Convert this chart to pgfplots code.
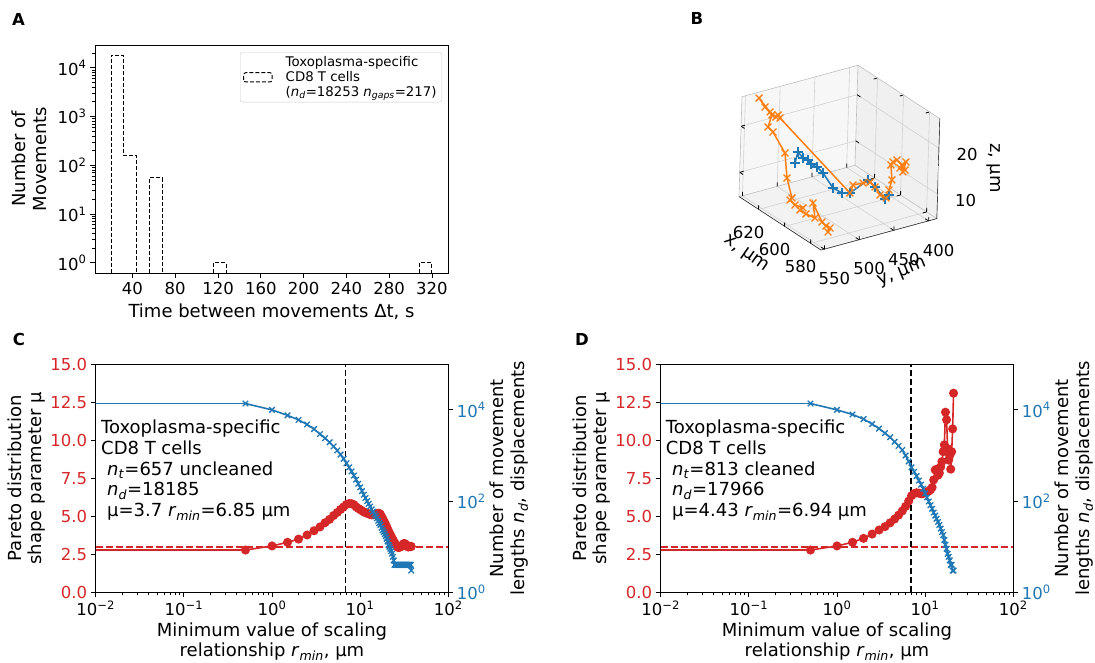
\documentclass[border=0pt]{standalone}
\usepackage{fontspec}
\setmainfont{DejaVu Sans}
\usepackage{pgfplots}
\pgfplotsset{compat=1.18}
\definecolor{mred}{HTML}{D62728}
\definecolor{mblue}{HTML}{1F77B4}
\definecolor{morange}{HTML}{FF7F0E}
\newcommand{\tickfont}{\fontsize{16.5}{19}\selectfont}
\newcommand{\labfont}{\fontsize{18}{20.7}\selectfont}
\newcommand{\e}[1]{10\textsuperscript{#1}}
\pgfplotsset{
  mystyle/.style={
    scale only axis,
    /pgf/number format/assume math mode=true,
    tick label style={font=\tickfont},
    label style={font=\labfont},
    tick align=outside,
    major tick length=5pt, minor tick length=3pt,
    axis line style={line width=0.9pt},
    tick style={black, line width=0.9pt},
  },
  b3d/.style={
    at={(839.5pt,504.25pt)}, anchor=center, disabledatascaling,
    x={(-1.3016pt,0.8492pt)}, y={(-0.6946pt,-0.1886pt)}, z={(0.1382pt,4.6083pt)},
    xmin=572, xmax=635, ymin=388, ymax=555, zmin=4.7, zmax=26.4,
    xtick={580,600,620}, ytick={400,450,500,550}, ztick={10,20},
  }
}
\begin{document}
\begin{tikzpicture}
\useasboundingbox (0,0) rectangle (1095pt,662pt);
% ---------------- Panel A
\begin{axis}[mystyle, at={(95pt,388.7pt)}, anchor=south west, width=353pt, height=228.3pt,
  xmin=5, xmax=335, ymode=log, ymin=0.61, ymax=29400,
  xtick={40,80,120,160,200,240,280,320},
  ytick={1,10,100,1000,10000}, yticklabels={\e{0},\e{1},\e{2},\e{3},\e{4}},
  minor ytick={2,3,4,5,6,7,8,9,20,30,40,50,60,70,80,90,200,300,400,500,600,700,800,900,2000,3000,4000,5000,6000,7000,8000,9000,20000},
  tick pos=left,
  xlabel={Time between movements Δt, s},
  xlabel style={at={(axis description cs:0.5,-0.193)}, anchor=base, inner sep=0pt},
  ylabel={Number of\\Movements},
  ylabel style={at={(axis description cs:-0.236,0.5)}, anchor=north, align=center, inner sep=0pt},
  legend style={at={(0.9822,0.968)}, anchor=north east, draw=black!20, rounded corners=2pt,
    font=\fontsize{13.3}{15}\selectfont, cells={align=left, anchor=west}, fill=white,
    inner xsep=3pt, inner ysep=2pt},
  legend image code/.code={\draw[#1] (0pt,-4.6pt) rectangle (28.3pt,4.6pt); \path[draw=none, fill=none] (0pt,0pt) -- (40pt,0pt);},
]
\addplot[black, line width=1pt, dash pattern=on 4pt off 2pt] coordinates {(20,0.61) (20,18036) (32,18036) (32,160) (44,160) (44,0.61)};
\addlegendentry{Toxoplasma-specific\\CD8 T cells\\(\textit{n}\textsubscript{\textit{d}}=18253 \textit{n}\textsubscript{\textit{gaps}}=217)}
\addplot[black, line width=1pt, dash pattern=on 4pt off 2pt, forget plot] coordinates {(56,0.61) (56,55) (68,55) (68,0.61)};
\addplot[black, line width=1pt, dash pattern=on 4pt off 2pt, forget plot] coordinates {(116,0.61) (116,1) (128,1) (128,0.61)};
\addplot[black, line width=1pt, dash pattern=on 4pt off 2pt, forget plot] coordinates {(308,0.61) (308,1) (320,1) (320,0.61)};
\end{axis}
% ---------------- Panel B (panes)
\begin{axis}[b3d, hide axis]
\addplot3[draw=none, fill=black!3] coordinates {(635,388,4.7) (635,555,4.7) (635,555,26.4) (635,388,26.4)};
\addplot3[draw=none, fill=black!6] coordinates {(572,388,4.7) (635,388,4.7) (635,388,26.4) (572,388,26.4)};
\addplot3[draw=none, fill=black!5] coordinates {(572,388,4.7) (635,388,4.7) (635,555,4.7) (572,555,4.7)};
\end{axis}
% ---------------- Panel B (data)
\begin{axis}[b3d,
  grid=major, grid style={black!18, line width=0.6pt},
  axis line style={black!25, line width=0.6pt},
  /pgf/number format/assume math mode=true,
  tick label style={font=\tickfont},
  xtick pos=left, ytick pos=left, ztick pos=right, zticklabel pos=right,
  xticklabel style={anchor=center, xshift=-10pt, yshift=-23pt},
  yticklabel style={anchor=center, xshift=10pt, yshift=-29pt},
  zticklabel style={anchor=center, xshift=28pt, yshift=-6pt},
  major tick length=4pt, tick style={black, line width=0.8pt},
]
\addplot3[black, line width=0.8pt] coordinates {(635,555,4.7) (572,555,4.7) (572,388,4.7) (572,388,26.4)};
\addplot3[mblue, line width=1.5pt, mark=+, mark size=4.8pt, mark options={line width=1.3pt}] coordinates {
(617.4,509.0,13.38) (621.8,496.8,14.47) (618.1,496.3,13.81) (617.0,491.1,13.38) (614.6,491.1,12.95)
(613.3,485.0,12.30) (609.4,483.4,11.64) (600.4,485.5,10.13) (596.7,479.4,9.47) (596.6,468.1,9.04)
(593.4,448.6,11.64) (590.1,444.4,10.56) (585.3,438.7,8.61) (584.4,434.7,9.47)};
\addplot3[morange, line width=1.5pt, mark=x, mark size=4.8pt, mark options={line width=1.3pt}] coordinates {
(579.0,532.1,6.44) (580.2,527.1,6.87) (582.8,528.0,6.87) (585.4,529.0,7.30) (596.6,521.3,9.04)
(587.8,534.7,7.96) (593.2,537.6,7.96) (595.4,542.2,8.61) (596.4,536.1,8.61) (599.0,542.7,9.04)
(602.6,543.2,9.47) (603.9,538.0,9.47) (606.8,540.5,13.38) (611.5,535.4,17.72) (619.3,538.7,20.98)
(622.1,540.8,21.63) (623.8,532.3,23.58) (629.5,531.7,24.23) (634.2,531.7,25.30) (625.9,531.2,23.80)
(622.9,528.2,23.15) (623.2,524.6,23.36) (621.1,525.7,23.15)
(596.6,468.1,9.04) (595.9,465.3,10.78) (593.7,455.2,11.21) (592.9,446.5,11.21) (590.1,444.4,10.56)
(588.1,440.7,9.04) (585.9,436.1,8.61) (586.1,431.7,10.13) (587.2,425.8,11.86) (590.0,422.5,14.47)
(587.9,423.7,15.55) (587.0,419.7,15.98) (583.4,419.3,15.55) (582.6,416.1,14.47) (583.8,421.2,14.90)
(583.3,413.7,15.98) (582.3,419.6,14.25)};
\end{axis}
\node[rotate=-35, font=\labfont] at (746pt,408pt) {x, μm};
\node[rotate=22, font=\labfont] at (902pt,389pt) {y, μm};
\node[rotate=-90, font=\labfont] at (994pt,494pt) {z, μm};
% ---------------- Panel C
\begin{axis}[mystyle, at={(95.7pt,69.7pt)}, anchor=south west, width=352.6pt, height=228pt,
  xmode=log, xmin=0.01, xmax=100, ymin=0, ymax=15,
  xtick={0.01,0.1,1,10,100}, xticklabels={\e{−2},\e{−1},\e{0},\e{1},\e{2}},
  minor xtick={0.02,0.03,0.04,0.05,0.06,0.07,0.08,0.09,0.2,0.3,0.4,0.5,0.6,0.7,0.8,0.9,2,3,4,5,6,7,8,9,20,30,40,50,60,70,80,90},
  ytick={0,2.5,5,7.5,10,12.5,15},
  yticklabel style={text=mred},
  y tick label style={/pgf/number format/fixed, /pgf/number format/fixed zerofill, /pgf/number format/precision=1},
  tick pos=left,
  xlabel={Minimum value of scaling\\relationship \textit{r}\textsubscript{\textit{min}}, μm},
  xlabel style={at={(axis description cs:0.5,-0.1316)}, anchor=north, align=center, inner sep=0pt},
  ylabel={Pareto distribution\\shape parameter μ},
  ylabel style={at={(axis description cs:-0.2507,0.5)}, anchor=north, align=center, inner sep=0pt}]
\addplot[mred, line width=1.6pt] coordinates {(0.001,2.78) (0.5,2.78)};
\addplot[mred, line width=1.6pt, mark=*, mark size=3.7pt] coordinates {
(0.5,2.78) (1,3.05) (1.5,3.29) (2,3.50) (2.5,3.77) (3,4.05) (3.5,4.30) (4,4.58) (4.5,4.80) (5,5.05)
(5.5,5.25) (6,5.45) (6.5,5.62) (7,5.78) (7.5,5.84) (8,5.83) (8.5,5.76) (9,5.62) (9.5,5.52) (10,5.44)
(10.5,5.36) (11,5.29) (11.5,5.24) (12,5.20) (12.5,5.16) (13,5.12) (13.5,5.10) (14,5.10) (14.5,5.12) (15,5.15)
(15.5,5.18) (16,5.20) (16.5,5.19) (17,5.12) (17.5,4.98) (18,4.85) (18.5,4.72) (19,4.58) (19.5,4.44) (20,4.30)
(20.5,4.16) (21,4.02) (21.5,3.90) (22,3.78) (22.5,3.67) (23,3.56) (23.5,3.46) (24,3.36) (24.5,3.27) (25,3.18)
(25.5,3.10) (26,3.03) (26.5,2.98) (27,2.96) (27.5,2.95) (28,2.97) (28.5,2.99) (29,3.01) (29.5,3.04) (30,3.08)
(30.5,3.13) (31,3.18) (31.5,3.21) (32,3.20) (32.5,3.17) (33,3.13) (33.5,3.09) (34,3.05) (34.5,3.01) (35,2.99)
(35.5,2.99) (36,3.01) (36.5,3.03) (37,3.02) (37.5,3.00) (38,3.02)};
\addplot[mred, line width=1.6pt, dash pattern=on 7pt off 3pt] coordinates {(0.01,3) (100,3)};
\addplot[black, line width=1.6pt, dash pattern=on 6pt off 3pt] coordinates {(6.85,0) (6.85,15)};
\node[anchor=base west, font=\labfont, inner sep=0pt] at (axis description cs:0.015,0.6956) {Toxoplasma-specific};
\node[anchor=base west, font=\labfont, inner sep=0pt] at (axis description cs:0.015,0.6048) {CD8 T cells};
\node[anchor=base west, font=\labfont, inner sep=0pt] at (axis description cs:0.032,0.514) {\textit{n}\textsubscript{\textit{t}}=657 uncleaned};
\node[anchor=base west, font=\labfont, inner sep=0pt] at (axis description cs:0.032,0.4232) {\textit{n}\textsubscript{\textit{d}}=18185};
\node[anchor=base west, font=\labfont, inner sep=0pt] at (axis description cs:0.032,0.3325) {μ=3.7 \textit{r}\textsubscript{\textit{min}}=6.85 μm};
\end{axis}
\begin{axis}[mystyle, at={(95.7pt,69.7pt)}, anchor=south west, width=352.6pt, height=228pt,
  xmode=log, xmin=0.01, xmax=100, ymode=log, ymin=1, ymax=100000,
  axis x line=none, axis y line*=right,
  ytick={1,100,10000}, yticklabels={\e{0},\e{2},\e{4}},
  yticklabel style={text=mblue},
  ylabel={Number of movement\\lengths \textit{n}\textsubscript{\textit{d}}, displacements},
  ylabel style={at={(axis description cs:1.117,0.5)}, anchor=north, align=center, inner sep=0pt}]
\addplot[mblue, line width=1.6pt] coordinates {(0.001,13800) (0.5,13800)};
\addplot[mblue, line width=1.6pt, mark=x, mark size=3.9pt, mark options={line width=1.3pt}] coordinates {
(0.5,13800) (1,10000) (1.5,7590) (2,6030) (2.5,4790) (3,3800) (3.5,2950) (4,2400) (4.5,1950) (5,1585)
(5.5,1290) (6,1050) (6.5,850) (7,676) (7.5,550) (8,447) (8.5,363) (9,295) (9.5,240) (10,200)
(10.5,166) (11,138) (11.5,117) (12,100) (12.5,87) (13,76) (13.5,66) (14,59) (14.5,52) (15,47)
(15.5,42) (16,37) (16.5,33) (17,30) (17.5,26) (18,23) (18.5,21) (19,19) (19.5,17) (20,15)
(20.5,13) (21,11) (21.5,10) (22,9) (22.5,8) (23,7) (23.5,6) (24,5) (24.5,4) (25,4)
(25.5,4) (26,4) (26.5,4) (27,4) (27.5,4) (28,4) (28.5,4) (29,4) (29.5,4) (30,4)
(30.5,4) (31,4) (31.5,4) (32,4) (32.5,4) (33,4) (33.5,4) (34,4) (34.5,4) (35,4)
(35.5,4) (36,4) (36.5,4) (37,4) (37.5,4) (38,3)};
\end{axis}
% ---------------- Panel D
\begin{axis}[mystyle, at={(660.7pt,69.7pt)}, anchor=south west, width=352.6pt, height=228pt,
  xmode=log, xmin=0.01, xmax=100, ymin=0, ymax=15,
  xtick={0.01,0.1,1,10,100}, xticklabels={\e{−2},\e{−1},\e{0},\e{1},\e{2}},
  minor xtick={0.02,0.03,0.04,0.05,0.06,0.07,0.08,0.09,0.2,0.3,0.4,0.5,0.6,0.7,0.8,0.9,2,3,4,5,6,7,8,9,20,30,40,50,60,70,80,90},
  ytick={0,2.5,5,7.5,10,12.5,15},
  yticklabel style={text=mred},
  y tick label style={/pgf/number format/fixed, /pgf/number format/fixed zerofill, /pgf/number format/precision=1},
  tick pos=left,
  xlabel={Minimum value of scaling\\relationship \textit{r}\textsubscript{\textit{min}}, μm},
  xlabel style={at={(axis description cs:0.5,-0.1316)}, anchor=north, align=center, inner sep=0pt},
  ylabel={Pareto distribution\\shape parameter μ},
  ylabel style={at={(axis description cs:-0.2507,0.5)}, anchor=north, align=center, inner sep=0pt}]
\addplot[mred, line width=1.6pt] coordinates {(0.001,2.78) (0.5,2.78)};
\addplot[mred, line width=1.6pt, mark=*, mark size=3.7pt] coordinates {
(0.5,2.78) (1,3.05) (1.5,3.29) (2,3.55) (2.5,3.83) (3,4.10) (3.5,4.32) (4,4.57) (4.5,4.82) (5,5.08)
(5.5,5.35) (6,5.65) (6.5,6.00) (7,6.35) (7.5,6.50) (8,6.55) (8.5,6.52) (9,6.48) (9.5,6.50) (10,6.55)
(10.5,6.60) (11,6.66) (11.5,6.75) (12,6.90) (12.5,7.40) (13,8.05) (13.5,8.10) (14,7.70) (14.5,7.85) (15,8.25)
(15.5,8.60) (16,9.25) (16.5,9.70) (17,11.85) (17.5,11.35) (18,9.45) (18.5,8.70) (19,9.00) (19.5,8.10) (20,9.25)
(20.5,10.75) (21,13.10)};
\addplot[mred, line width=1.6pt, dash pattern=on 7pt off 3pt] coordinates {(0.01,3) (100,3)};
\addplot[black, line width=1.6pt, dash pattern=on 6pt off 3pt] coordinates {(6.94,0) (6.94,15)};
\node[anchor=base west, font=\labfont, inner sep=0pt] at (axis description cs:0.0142,0.6956) {Toxoplasma-specific};
\node[anchor=base west, font=\labfont, inner sep=0pt] at (axis description cs:0.0142,0.6048) {CD8 T cells};
\node[anchor=base west, font=\labfont, inner sep=0pt] at (axis description cs:0.032,0.514) {\textit{n}\textsubscript{\textit{t}}=813 cleaned};
\node[anchor=base west, font=\labfont, inner sep=0pt] at (axis description cs:0.032,0.4232) {\textit{n}\textsubscript{\textit{d}}=17966};
\node[anchor=base west, font=\labfont, inner sep=0pt] at (axis description cs:0.032,0.3325) {μ=4.43 \textit{r}\textsubscript{\textit{min}}=6.94 μm};
\end{axis}
\begin{axis}[mystyle, at={(660.7pt,69.7pt)}, anchor=south west, width=352.6pt, height=228pt,
  xmode=log, xmin=0.01, xmax=100, ymode=log, ymin=1, ymax=100000,
  axis x line=none, axis y line*=right,
  ytick={1,100,10000}, yticklabels={\e{0},\e{2},\e{4}},
  yticklabel style={text=mblue},
  ylabel={Number of movement\\lengths \textit{n}\textsubscript{\textit{d}}, displacements},
  ylabel style={at={(axis description cs:1.117,0.5)}, anchor=north, align=center, inner sep=0pt}]
\addplot[mblue, line width=1.6pt] coordinates {(0.001,13800) (0.5,13800)};
\addplot[mblue, line width=1.6pt, mark=x, mark size=3.9pt, mark options={line width=1.3pt}] coordinates {
(0.5,13800) (1,10000) (1.5,7940) (2,6300) (2.5,4900) (3,3890) (3.5,3090) (4,2510) (4.5,2000) (5,1620)
(5.5,1320) (6,1000) (6.5,740) (7,550) (7.5,436) (8,355) (8.5,282) (9,229) (9.5,186) (10,148)
(10.5,120) (11,98) (11.5,81) (12,68) (12.5,56) (13,48) (13.5,41) (14,35) (14.5,30) (15,25)
(15.5,21) (16,18) (16.5,14) (17,11) (17.5,9) (18,7) (18.5,6) (19,5) (19.5,4) (20,4)
(20.5,3) (21,3)};
\end{axis}
% ---------------- Panel letters
\node[font=\fontsize{16.5}{19}\selectfont\bfseries] at (18.5pt,643pt) {A};
\node[font=\fontsize{16.5}{19}\selectfont\bfseries] at (697pt,644pt) {B};
\node[font=\fontsize{16.5}{19}\selectfont\bfseries] at (19pt,323pt) {C};
\node[font=\fontsize{16.5}{19}\selectfont\bfseries] at (582pt,323pt) {D};
\end{tikzpicture}
\end{document}
